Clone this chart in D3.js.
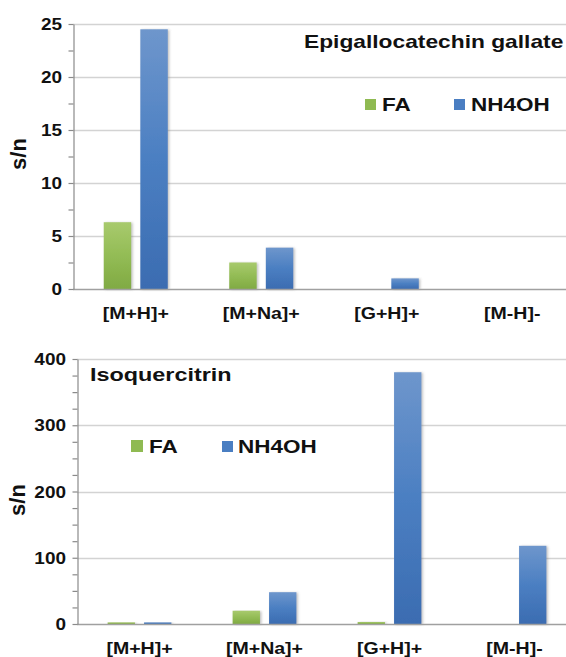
<!DOCTYPE html>
<html>
<head>
<meta charset="utf-8">
<script src="https://cdn.jsdelivr.net/npm/d3@7"></script>
<style>
  html, body { margin: 0; padding: 0; background: #fff; }
  svg { display: block; }
  text { font-family: "Liberation Sans", Arial, sans-serif; font-weight: bold; fill: #111; }
</style>
</head>
<body>
<svg id="chart" width="566" height="657"></svg>
<script>
// ---- data ----
const categories = ["[M+H]+", "[M+Na]+", "[G+H]+", "[M-H]-"];
const seriesNames = ["FA", "NH4OH"];
const egcgFA = [6.3, 2.5, 0, 0];
const egcgNH4OH = [24.5, 3.9, 1.0, 0];
const isoFA = [2.5, 20, 3, 0];
const isoNH4OH = [2.5, 48, 380, 118];
const egcgTicks = [0, 5, 10, 15, 20, 25];
const isoTicks = [0, 100, 200, 300, 400];
const egcgTitle = "Epigallocatechin gallate";
const isoTitle = "Isoquercitrin";
const yTitle = "s/n";

const svg = d3.select("#chart");
const defs = svg.append("defs");

function grad(id, stops) {
  const g = defs.append("linearGradient").attr("id", id)
    .attr("x1", 0).attr("y1", 0).attr("x2", 0).attr("y2", 1);
  stops.forEach(([o, c]) => g.append("stop").attr("offset", o).attr("stop-color", c));
}
grad("gFA", [[0, "#a8ca6d"], [0.5, "#93bc55"], [1, "#80aa43"]]);
grad("gNH", [[0, "#6e96cc"], [0.5, "#4b7fc2"], [1, "#3b6cb1"]]);
const f = defs.append("filter").attr("id", "shadow")
  .attr("x", "-20%").attr("y", "-5%").attr("width", "150%").attr("height", "115%");
f.append("feDropShadow").attr("dx", 1.5).attr("dy", 0.5).attr("stdDeviation", 1)
  .attr("flood-color", "#777").attr("flood-opacity", 0.45);

const fills = { "FA": "url(#gFA)", "NH4OH": "url(#gNH)" };
const swatch = { "FA": "#8fba52", "NH4OH": "#4a7ec2" };

function label(g, x, y, str, size, anchor, sx) {
  return g.append("text")
    .attr("transform", `translate(${x},${y}) scale(${sx},1)`)
    .attr("text-anchor", anchor)
    .attr("font-size", size)
    .text(str);
}

function panel(cfg) {
  const g = svg.append("g");
  const x0 = d3.scaleBand().domain(categories).range([cfg.axisX, cfg.rangeEnd]).padding(0);
  const x1 = d3.scaleBand().domain(seriesNames).range([0, x0.bandwidth()])
    .paddingInner(0.25).paddingOuter(0.84);
  const y = d3.scaleLinear().domain([0, cfg.yMax]).range([cfg.y0, cfg.yTop]);

  // gridlines
  g.selectAll("line.grid").data(cfg.ticks.filter(d => d > 0)).join("line")
    .attr("x1", cfg.axisX).attr("x2", 566)
    .attr("y1", d => Math.round(y(d)) + 0.5).attr("y2", d => Math.round(y(d)) + 0.5)
    .attr("stroke", "#d3d3d3").attr("stroke-width", 1.3);

  // bars
  const rows = categories.map((c, i) => ({ c, vals: [
    { s: "FA", v: cfg.fa[i] }, { s: "NH4OH", v: cfg.nh[i] } ] }));
  const grp = g.selectAll("g.cat").data(rows).join("g")
    .attr("transform", d => `translate(${x0(d.c)},0)`);
  grp.selectAll("rect").data(d => d.vals.filter(v => v.v > 0)).join("rect")
    .attr("x", d => x1(d.s)).attr("width", x1.bandwidth())
    .attr("y", d => y(d.v)).attr("height", d => y(0) - y(d.v))
    .attr("fill", d => fills[d.s])
    .attr("filter", "url(#shadow)");

  // x axis baseline
  g.append("line").attr("x1", cfg.axisX).attr("x2", 566)
    .attr("y1", Math.round(y(0)) + 0.5).attr("y2", Math.round(y(0)) + 0.5)
    .attr("stroke", "#a0a0a0").attr("stroke-width", 1.3);

  // y axis with minor ticks
  const minor = d3.range(0, cfg.yMax + cfg.minor / 2, cfg.minor);
  const ax = g.append("g").attr("transform", `translate(${cfg.axisX + 0.5},0)`)
    .call(d3.axisLeft(y).tickValues(minor).tickSize(5).tickSizeOuter(0).tickFormat(""));
  ax.selectAll("path,line").attr("stroke", "#8a8a8a").attr("stroke-width", 1.2);

  // y tick labels
  cfg.ticks.forEach(t => {
    label(g, cfg.axisX - 11, y(t) + 6, String(t), 16.5, "end", 1.15);
  });

  // x labels
  categories.forEach(c => {
    label(g, x0(c) + x0.bandwidth() / 2, cfg.labelY, c, 17, "middle", 1.15);
  });

  // y title
  g.append("text").attr("transform", `translate(${cfg.yTitleX},${cfg.yTitleY}) rotate(-90)`)
    .attr("text-anchor", "middle").attr("font-size", 22).text(yTitle);

  // chart title
  label(g, cfg.titleX, cfg.titleY, cfg.title, 18, "start", cfg.titleScale);

  // legend
  seriesNames.forEach((s, i) => {
    const L = cfg.legend[i];
    g.append("rect").attr("x", L.sx).attr("y", L.sy).attr("width", L.ss).attr("height", L.ss)
      .attr("fill", swatch[s]);
    label(g, L.tx, L.ty, s, 18, "start", 1.25);
  });
}

panel({
  fa: egcgFA, nh: egcgNH4OH, ticks: egcgTicks, yMax: 25, minor: 2.5,
  axisX: 73, rangeEnd: 575, y0: 289, yTop: 24,
  labelY: 319, yTitleX: 26, yTitleY: 154,
  title: egcgTitle, titleX: 304, titleY: 48, titleScale: 1.265,
  legend: [ { sx: 365, sy: 99, ss: 11, tx: 382, ty: 111 },
            { sx: 454, sy: 99, ss: 11, tx: 471, ty: 111 } ]
});

panel({
  fa: isoFA, nh: isoNH4OH, ticks: isoTicks, yMax: 400, minor: 25,
  axisX: 77, rangeEnd: 577, y0: 624, yTop: 359,
  labelY: 654, yTitleX: 25, yTitleY: 500,
  title: isoTitle, titleX: 90, titleY: 381, titleScale: 1.3,
  legend: [ { sx: 131, sy: 440, ss: 12, tx: 149, ty: 453 },
            { sx: 222, sy: 441, ss: 11, tx: 238, ty: 453 } ]
});
</script>
</body>
</html>
